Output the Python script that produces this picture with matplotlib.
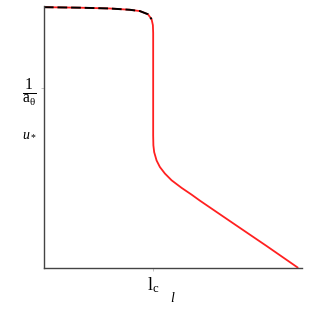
import matplotlib
matplotlib.use("Agg")
import matplotlib.pyplot as plt

# curve u_* vs l (axis units 0..1)
l_vals = [0.0, 0.1395, 0.2558, 0.3333, 0.3721, 0.4031, 0.4174, 0.4225, 0.4236,
          0.4236, 0.4236, 0.4244, 0.4275, 0.4368, 0.4496, 0.4690, 0.4950,
          0.5337, 0.5725, 0.6047, 0.7337, 0.8632, 0.9857]
u_vals = [1.0, 0.998, 0.995, 0.990, 0.985, 0.973, 0.954, 0.931, 0.901,
          0.718, 0.508, 0.470, 0.444, 0.412, 0.387, 0.362, 0.336,
          0.307, 0.281, 0.258, 0.171, 0.084, 0.0]
# dashed approximation on the upper branch
l_approx = [0.0, 0.1395, 0.2558, 0.3333, 0.3721, 0.4031, 0.4174]
u_approx = [1.0, 0.998, 0.995, 0.990, 0.985, 0.973, 0.954]

l_c = 0.4236
inv_a_theta = 0.689

plt.rcParams["mathtext.fontset"] = "custom"
plt.rcParams["mathtext.rm"] = "Liberation Serif"
plt.rcParams["mathtext.it"] = "Liberation Serif:italic"
plt.rcParams["font.family"] = ["Liberation Serif", "DejaVu Serif"]

fig = plt.figure(figsize=(3.09, 3.09), dpi=100)
ax = fig.add_axes([0.142, 0.133, 0.835, 0.848])
ax.plot(l_vals, u_vals, color="#ff2020", lw=1.3, solid_capstyle="butt")
ax.plot(l_approx, u_approx, color="black", lw=1.4, dashes=(5, 2))
ax.set_xlim(0, 1)
ax.set_ylim(0, 1.005)
for s in ("top", "right"):
    ax.spines[s].set_visible(False)
for s in ("left", "bottom"):
    ax.spines[s].set_color("#444444")
    ax.spines[s].set_linewidth(1.0)
ax.set_xticks([l_c])
ax.set_xticklabels([r"$\mathrm{l}_{\mathrm{c}}$"], fontsize=13)
ax.set_yticks([inv_a_theta])
ax.set_yticklabels([r"$\frac{\mathrm{1}}{\mathrm{a}_{\mathrm{θ}}}$"], fontsize=16)
ax.tick_params(length=2, width=0.5, color="#aaaaaa", pad=3)
ax.set_xlabel(r"$l$", fontsize=10)
ax.set_ylabel(r"$u_*$", fontsize=10, rotation=0)
ax.xaxis.set_label_coords(0.5, -0.09)
ax.yaxis.set_label_coords(-0.055, 0.49)
fig.savefig("out.png", dpi=100)
